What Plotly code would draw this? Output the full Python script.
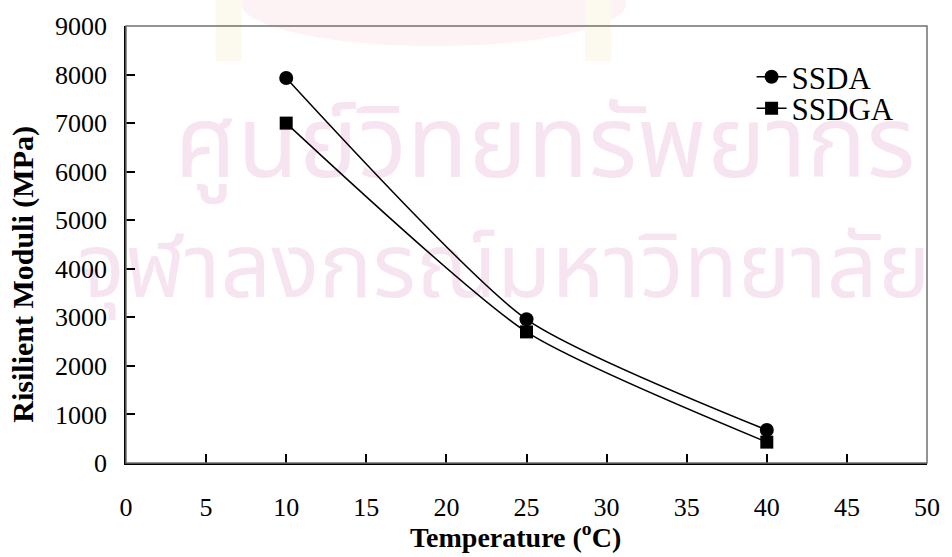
import plotly.graph_objects as go

temps = [10, 25, 40]
ssda = [7930, 2960, 680]
ssdga = [7000, 2700, 430]
x_ticks = list(range(0, 51, 5))
y_ticks = list(range(0, 9001, 1000))
watermark_lines = ["ศูนย์วิทยทรัพยากร", "จุฬาลงกรณ์มหาวิทยาลัย"]

SERIF = "Liberation Serif"
THAI = "Noto Sans Thai, Noto Sans, sans-serif"

fig = go.Figure()
fig.add_trace(go.Scatter(x=temps, y=ssda, name="SSDA", mode="lines+markers", legend="legend",
                         line=dict(color="black", width=1.5, shape="spline", smoothing=0.6),
                         marker=dict(symbol="circle", size=14, color="black")))
fig.add_trace(go.Scatter(x=temps, y=ssdga, name="SSDGA", mode="lines+markers", legend="legend2",
                         line=dict(color="black", width=1.5, shape="spline", smoothing=0.6),
                         marker=dict(symbol="square", size=13, color="black")))

# faint watermark (logo + text), drawn below the data
fig.add_shape(type="circle", xref="paper", yref="paper", x0=0.144, x1=0.625, y0=0.954, y1=1.15,
              line=dict(width=0), fillcolor="rgba(253,243,245,1)", layer="below")
for xa, xb in [(0.112, 0.144), (0.573, 0.606)]:
    fig.add_shape(type="rect", xref="paper", yref="paper", x0=xa, x1=xb, y0=0.92, y1=1.06,
                  line=dict(width=0), fillcolor="rgba(252,249,238,1)", layer="below")

wm_color = "rgba(246,229,241,1)"
fig.add_shape(type="rect", xref="paper", yref="paper", x0=0.023, x1=1.023, y0=0.61, y1=0.81,
              line=dict(width=0), fillcolor="rgba(0,0,0,0)", layer="below",
              label=dict(text=watermark_lines[0], font=dict(size=100, color=wm_color, family=THAI),
                         textposition="middle center"))
fig.add_shape(type="rect", xref="paper", yref="paper", x0=-0.028, x1=0.972, y0=0.33, y1=0.53,
              line=dict(width=0), fillcolor="rgba(0,0,0,0)", layer="below",
              label=dict(text=watermark_lines[1], font=dict(size=89, color=wm_color, family=THAI),
                         textposition="middle center"))

# grey frame (top/right)
fig.add_shape(type="rect", xref="paper", yref="paper", x0=0, x1=1, y0=0, y1=1,
              line=dict(color="#707070", width=1.5), layer="above")

# axis titles
fig.add_annotation(text="<b>Temperature (<sup>o</sup>C)</b>", xref="paper", yref="paper",
                   x=0.486, y=-0.167, xanchor="center", yanchor="middle", showarrow=False,
                   font=dict(family=SERIF, size=28, color="black"))
fig.add_annotation(text="<b>Risilient Moduli (MPa)</b>", xref="paper", yref="paper",
                   x=-0.128, y=0.432, xanchor="center", yanchor="middle", showarrow=False,
                   textangle=-90, font=dict(family=SERIF, size=30, color="black"))

leg_common = dict(xanchor="left", yanchor="middle", bgcolor="rgba(0,0,0,0)",
                  font=dict(family=SERIF, size=31, color="black"))
fig.update_layout(
    width=952, height=557,
    margin=dict(l=126, r=16, t=25, b=94),
    paper_bgcolor="white", plot_bgcolor="white",
    font=dict(family=SERIF, size=26, color="black"),
    showlegend=True,
    legend=dict(x=0.781, y=0.883, **leg_common),
    legend2=dict(x=0.781, y=0.811, **leg_common),
    xaxis=dict(range=[0, 50], tickvals=x_ticks, ticks="inside", ticklen=9, tickwidth=1.5,
               tickcolor="black", showline=True, linecolor="black", linewidth=1.5,
               showgrid=False, zeroline=False, ticklabelstandoff=20,
               tickfont=dict(family=SERIF, size=26, color="black")),
    yaxis=dict(range=[0, 9000], tickvals=y_ticks, ticks="inside", ticklen=9, tickwidth=1.5,
               tickcolor="black", showline=True, linecolor="black", linewidth=1.5,
               showgrid=False, zeroline=False, ticklabelstandoff=12,
               tickfont=dict(family=SERIF, size=26, color="black")),
)

fig.write_html("out.html")
